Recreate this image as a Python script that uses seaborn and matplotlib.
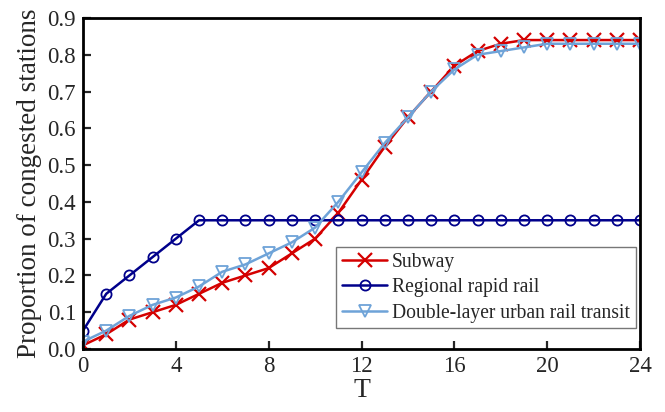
import numpy as np
import pandas as pd
import matplotlib
matplotlib.use("Agg")
import matplotlib.pyplot as plt
import seaborn as sns

T = list(range(25))
subway = [0.01, 0.04, 0.08, 0.10, 0.12, 0.15, 0.18, 0.20, 0.22, 0.26, 0.30, 0.37, 0.46,
          0.55, 0.63, 0.70, 0.77, 0.81, 0.83, 0.84, 0.84, 0.84, 0.84, 0.84, 0.84]
regional = [0.05, 0.15, 0.20, 0.25, 0.30, 0.35, 0.35, 0.35, 0.35, 0.35, 0.35, 0.35, 0.35,
            0.35, 0.35, 0.35, 0.35, 0.35, 0.35, 0.35, 0.35, 0.35, 0.35, 0.35, 0.35]
double = [0.02, 0.05, 0.09, 0.12, 0.14, 0.17, 0.21, 0.23, 0.26, 0.29, 0.33, 0.40, 0.48,
          0.56, 0.63, 0.70, 0.76, 0.80, 0.81, 0.82, 0.83, 0.83, 0.83, 0.83, 0.83]
labels = ["Subway", "Regional rapid rail", "Double-layer urban rail transit"]
xticks = [0, 4, 8, 12, 16, 20, 24]
yticks = [0.0, 0.1, 0.2, 0.3, 0.4, 0.5, 0.6, 0.7, 0.8, 0.9]

sns.set_style("ticks")
plt.rcParams['font.family'] = ['Liberation Serif', 'DejaVu Serif']
plt.rcParams['xtick.direction'] = 'in'
plt.rcParams['ytick.direction'] = 'in'

fig = plt.figure(figsize=(6.65, 4.12), dpi=100)
ax = fig.add_axes([83/665, 1-349/412, (640-83)/665, (349-18)/412])

styles = [
    (subway, "#d40000", "x", dict(markersize=9.5, markeredgewidth=1.6)),
    (regional, "#00008b", "o", dict(markersize=7.3, markerfacecolor="none", markeredgewidth=1.3)),
    (double, "#6ea3d8", "v", dict(markersize=8.5, markerfacecolor="none", markeredgewidth=1.3)),
]
for (vals, col, mk, kw), lab in zip(styles, labels):
    df = pd.DataFrame({"T": T, "v": vals})
    sns.lineplot(data=df, x="T", y="v", ax=ax, color=col, marker=mk, linewidth=1.8,
                 markeredgecolor=col, label=lab, **kw)

ax.set_xlim(0, 24)
ax.set_ylim(0, 0.9)
ax.set_xticks(xticks)
ax.set_xticklabels([str(t) for t in xticks])
ax.set_yticks(yticks)
ax.set_yticklabels([f"{t:.1f}" for t in yticks])
ax.tick_params(labelsize=16.5, width=1.6, length=6, top=False, right=False, pad=5)
for s in ax.spines.values():
    s.set_linewidth(2)
    s.set_color("black")
ax.set_xlabel("T", fontsize=20, labelpad=1)
ax.set_ylabel("Proportion of congested stations", fontsize=19.5, labelpad=4)

leg = ax.legend(loc="lower right", bbox_to_anchor=(0.993, 0.062), fontsize=14.1, frameon=True,
                fancybox=False, handlelength=2.3, handletextpad=0.25, borderpad=0.3,
                labelspacing=0.32, borderaxespad=0.0)
leg.get_frame().set_edgecolor("#555555")
leg.get_frame().set_linewidth(1.0)

fig.savefig("out.png", dpi=100)
